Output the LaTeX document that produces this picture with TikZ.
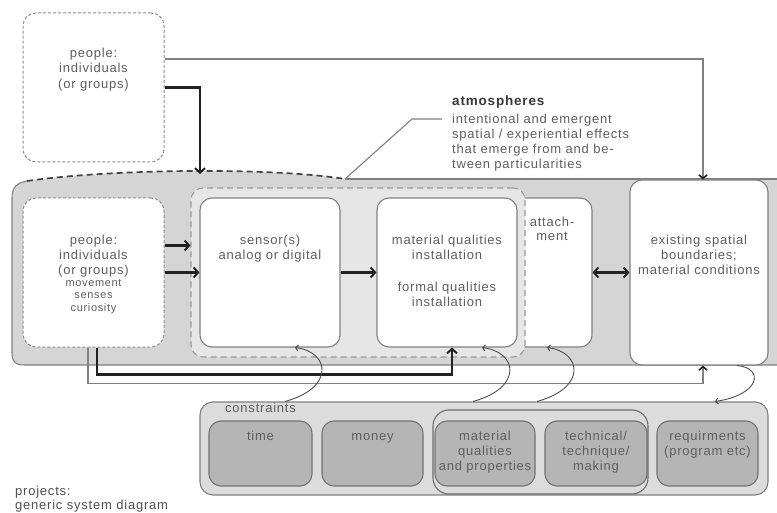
\documentclass[tikz,border=0pt]{standalone}
\usepackage{fontspec}
\setmainfont{Liberation Sans}[LetterSpace=6]
\usetikzlibrary{arrows.meta}
\definecolor{txt}{HTML}{5E5E5E}
\definecolor{bord}{HTML}{808080}
\definecolor{contf}{HTML}{D5D5D5}
\definecolor{atmf}{HTML}{E6E6E6}
\definecolor{consf}{HTML}{DCDCDC}
\definecolor{innf}{HTML}{B5B5B5}
\definecolor{dark}{HTML}{222222}
\tikzset{
  wbox/.style={draw=bord, line width=1.1pt, rounded corners=12pt, fill=white, inner sep=0pt},
  dotbox/.style={draw=bord!90, line width=1pt, dash pattern=on 3pt off 2pt, rounded corners=13pt, fill=white, inner sep=0pt},
  atmbox/.style={draw=bord!80, line width=1.1pt, dash pattern=on 6pt off 4pt, rounded corners=12pt, fill=atmf, inner sep=0pt},
  consbox/.style={draw=bord, line width=1.1pt, rounded corners=13pt, fill=consf, inner sep=0pt},
  ibox/.style={draw=bord!90!black, line width=1.1pt, rounded corners=12pt, fill=innf, inner sep=0pt},
  grpbox/.style={draw=bord!85!black, line width=1.1pt, rounded corners=16pt, inner sep=0pt},
  tx/.style={text=txt, font=\fontsize{13}{15}\selectfont, align=center, inner sep=0pt, anchor=base},
  txs/.style={text=txt, font=\fontsize{11}{12.5}\selectfont, align=center, inner sep=0pt, anchor=base},
  thk/.style={draw=dark, line width=2.4pt, -{Straight Barb[length=4.5pt,width=10pt,line width=2pt]}},
  thn/.style={draw=bord, line width=1.1pt},
  thnarrow/.style={draw=bord, line width=1.1pt, -{Straight Barb[length=3.5pt,width=8pt,line width=1.6pt,color=dark]}},
  dbl/.style={draw=dark, line width=2.4pt, {Straight Barb[length=4.5pt,width=10pt,line width=2pt]}-{Straight Barb[length=4.5pt,width=10pt,line width=2pt]}},
  crv/.style={draw=dark!80, line width=0.9pt, -{Straight Barb[length=2.5pt,width=6pt,line width=1pt]}}
}
\begin{document}
\begin{tikzpicture}[x=1pt,y=-1pt]
\useasboundingbox (0,0) rectangle (777,513);
\clip (0,0) rectangle (777,513);

% main container
\fill[contf] (790,179) -- (345,179) .. controls (270,167) and (110,169) .. (27,181)
  .. controls (16,183) and (12,188) .. (12,198) -- (12,352) .. controls (12,362) and (15,365) .. (25,365)
  -- (790,365) -- cycle;
\draw[bord, line width=1.1pt] (27,181) .. controls (16,183) and (12,188) .. (12,198) -- (12,352)
  .. controls (12,362) and (15,365) .. (25,365) -- (790,365);
\draw[bord, line width=1.1pt] (345,179) -- (790,179);
\draw[dark!85, line width=1.7pt, dash pattern=on 6pt off 4pt] (27,181) .. controls (110,169) and (270,167) .. (345,179);
\coordinate (arcend) at (345,179);
\coordinate (atmotop) at (200,174);

% boxes inside the container
\node[wbox, minimum width=97pt, minimum height=149pt] (attach) at (543.5,272.5) {};
\node[atmbox, minimum width=334pt, minimum height=169pt] (atmo) at (358,272.5) {};
\node[dotbox, minimum width=141pt, minimum height=149pt] (pin) at (93.5,272.5) {};
\node[wbox, minimum width=140pt, minimum height=149pt] (sensor) at (270,272.5) {};
\node[wbox, minimum width=140pt, minimum height=149pt] (mat) at (447,272.5) {};
\node[wbox, minimum width=138pt, minimum height=185pt] (exist) at (699,272.5) {};

% top people box
\node[dotbox, minimum width=141pt, minimum height=149pt] (ptop) at (93.5,87.5) {};

% constraints
\node[consbox, minimum width=568pt, minimum height=93pt] (cons) at (484,448.5) {};
\node[ibox, minimum width=103pt, minimum height=65pt] (time) at (260.5,453.5) {};
\node[ibox, minimum width=101pt, minimum height=65pt] (money) at (372.5,453.5) {};
\node[ibox, minimum width=100pt, minimum height=65pt] (matq) at (485,453.5) {};
\node[ibox, minimum width=102pt, minimum height=65pt] (tech) at (596,453.5) {};
\node[ibox, minimum width=101pt, minimum height=65pt] (req) at (707.5,453.5) {};
\node[grpbox, minimum width=215pt, minimum height=84pt] (grp) at (540.5,452) {};

% connectors
\draw[thnarrow] ([yshift=28.5pt]ptop.east) -| ([xshift=4pt]exist.north);
\draw[thk] (ptop.east) -| (atmotop);
\draw[thk] ([yshift=27pt]pin.east) -- ([yshift=27pt]atmo.west);
\draw[thk] (pin.east) -- (sensor.west);
\draw[thk] (sensor.east) -- (mat.west);
\draw[dbl] (attach.east) -- (exist.west);
\draw[thnarrow] ([xshift=-5.5pt]pin.south) -- ++(0,36) -| ([xshift=4pt]exist.south);
\draw[thk] ([xshift=3.5pt]pin.south) -- ++(0,27) -| ([xshift=5pt]mat.south);
\coordinate (ldr) at (442,119);
\draw[thn] (arcend) -- (412,119) -- (ldr);

\draw[crv] ([xshift=-199pt]cons.north) .. controls (335,388) and (330,352) .. ([xshift=25pt]sensor.south);
\draw[crv] ([xshift=-11pt]cons.north) .. controls (523,388) and (518,352) .. ([xshift=35pt]mat.south);
\draw[crv] ([xshift=53pt]cons.north) .. controls (587,388) and (582,352) .. ([xshift=3.5pt]attach.south);
\draw[crv] ([xshift=38pt]exist.south) .. controls (765,368) and (760,395) .. ([xshift=231pt]cons.north);

% texts (anchor=base is the baseline of the last line)
\node[tx, font=\fontsize{13}{15.5}\selectfont] (tptop) at (93.5,88.5) {people:\\individuals\\(or groups)};
\node[tx] (tpin) at (93.5,274.5) {people:\\individuals\\(or groups)};
\node[txs] (tpin2) at (93.5,311.5) {movement\\senses\\curiosity};
\node[tx] (tsensor) at (270,259.5) {sensor(s)\\analog or digital};
\node[tx] (tmat) at (447,306.5) {material qualities\\installation\\[17pt]formal qualities\\installation};
\node[tx, font=\fontsize{13}{14}\selectfont] (tattach) at (552,240.5) {attach-\\ment};
\node[tx] (texist) at (699,274.5) {existing spatial\\boundaries;\\material conditions};
\node[tx, anchor=base west, text=dark!90, font=\fontsize{13.5}{15}\bfseries] (tatm) at (452,105.5) {atmospheres};
\node[tx, anchor=base west, align=left] (tatmd) at (452,168.5) {intentional and emergent\\spatial / experiential effects\\that emerge from and be-\\tween particularities};
\node[tx, anchor=base west] (tcons) at (225,412) {constraints};
\node[tx] (ttime) at (260.5,440) {time};
\node[tx] (tmoney) at (372.5,440) {money};
\node[tx] (tmatq) at (485,470) {material\\qualities\\and properties};
\node[tx] (ttech) at (596,470) {technical/\\technique/\\making};
\node[tx] (treq) at (707.5,455) {requirments\\(program etc)};
\node[tx, anchor=base west, align=left, text=dark!80, font=\fontsize{13}{14}\selectfont] (tproj) at (15,509.5) {projects:\\generic system diagram};
\end{tikzpicture}
\end{document}
